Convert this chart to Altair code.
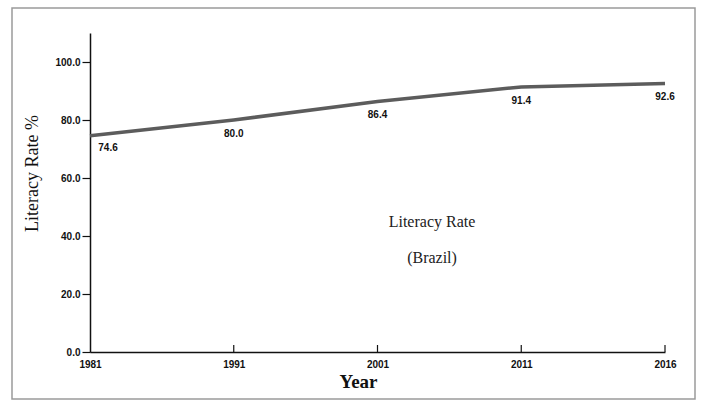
import altair as alt
import pandas as pd

years = ["1981", "1991", "2001", "2011", "2016"]
rates = [74.6, 80.0, 86.4, 91.4, 92.6]
y_ticks = [0, 20, 40, 60, 80, 100]
note_lines = ["Literacy Rate", "(Brazil)"]

df = pd.DataFrame({"Year": years, "Rate": rates, "Label": [f"{r:.1f}" for r in rates]})

W, H = 575, 319
y_scale = alt.Scale(domain=[0, 110], nice=False)

x_enc = alt.X(
    "Year:N", sort=years,
    scale=alt.Scale(type="point", padding=0),
    axis=alt.Axis(
        title="Year", labelAngle=0, ticks=False, labelPadding=7,
        labelFont="Liberation Sans", labelFontSize=10, labelFontWeight="bold",
        labelColor="#111", domainColor="#111", domainWidth=1.5,
        titleFont="Liberation Serif", titleFontSize=19, titleFontWeight="bold",
        titleColor="#111", titlePadding=3, titleX=268,
    ),
)
y_enc = alt.Y(
    "Rate:Q",
    scale=y_scale,
    axis=alt.Axis(
        values=y_ticks, format=".1f", grid=False, title="Literacy Rate %",
        tickSize=8, tickColor="#111", tickWidth=1.2, labelPadding=2,
        labelFont="Liberation Sans", labelFontSize=10, labelFontWeight="bold",
        labelColor="#111", domainColor="#111", domainWidth=1.5,
        titleFont="Liberation Serif", titleFontSize=18, titleFontWeight="normal",
        titleColor="#111", titlePadding=13, titleY=140,
    ),
)

base = alt.Chart(df)

line = base.mark_line(color="#5c5c5c", strokeWidth=3.5).encode(x=x_enc, y=y_enc)

x_plain = alt.X("Year:N", sort=years)
y_plain = alt.Y("Rate:Q", scale=y_scale)

labels_first = base.transform_filter(alt.datum.Year == years[0]).mark_text(
    font="Liberation Sans", fontSize=10, fontWeight="bold", color="#111", dx=18, dy=12
).encode(x=x_plain, y=y_plain, text="Label:N")

labels_rest = base.transform_filter(alt.datum.Year != years[0]).mark_text(
    font="Liberation Sans", fontSize=10, fontWeight="bold", color="#111", dy=14
).encode(x=x_plain, y=y_plain, text="Label:N")

ticks = base.transform_filter(alt.datum.Year != years[0]).mark_rule(
    color="#111", strokeWidth=1.2
).encode(x=x_plain, y=alt.value(H), y2=alt.value(H - 7))

one = pd.DataFrame({"a": [0]})
note1 = alt.Chart(one).mark_text(
    font="Liberation Serif", fontSize=16, color="#222", text=note_lines[0]
).encode(x=alt.value(342), y=alt.value(189))
note2 = alt.Chart(one).mark_text(
    font="Liberation Serif", fontSize=16, color="#222", text=note_lines[1]
).encode(x=alt.value(342), y=alt.value(225))

frame = alt.Chart(one).mark_rect(
    fillOpacity=0, stroke="#9a9a9a", strokeWidth=1.5
).encode(x=alt.value(-78), x2=alt.value(605), y=alt.value(-25), y2=alt.value(366))

chart = alt.layer(frame, line, ticks, labels_first, labels_rest, note1, note2).properties(
    width=W, height=H,
    autosize=alt.AutoSizeParams(type="none"),
    padding={"left": 90, "top": 33, "right": 41, "bottom": 59},
    background="white",
).configure_view(stroke=None)

chart.save("out.html", embed_options={"renderer": "svg", "actions": False})
